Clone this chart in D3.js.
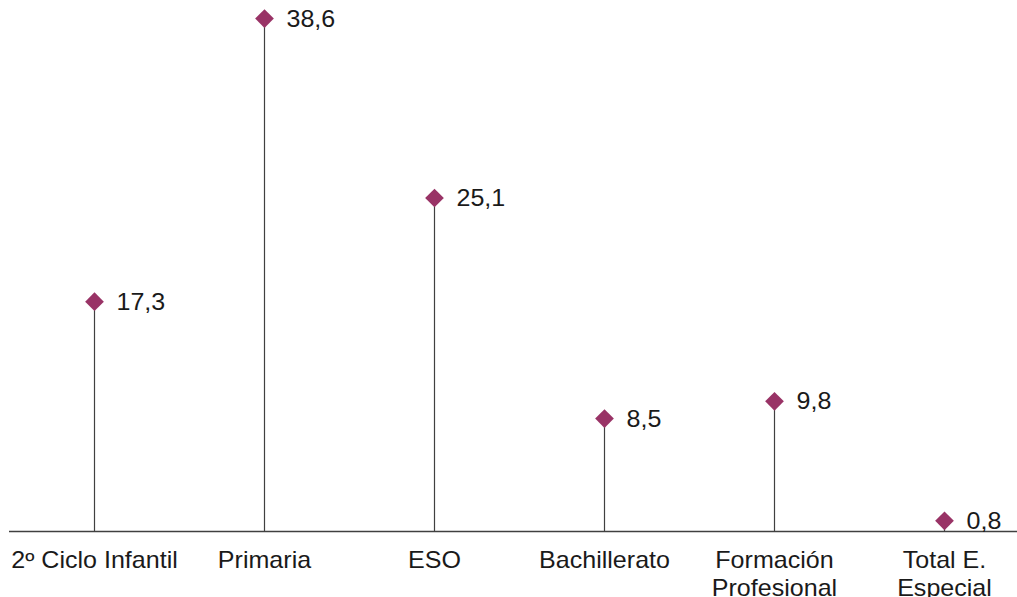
<!DOCTYPE html>
<html><head><meta charset="utf-8">
<script src="https://cdn.jsdelivr.net/npm/d3@7"></script>
<style>html,body{margin:0;padding:0;background:#fff;overflow:hidden}</style>
</head><body>
<svg id="c" width="1017" height="597"></svg>
<script>
const categories = [["2º Ciclo Infantil"], ["Primaria"], ["ESO"], ["Bachillerato"], ["Formación", "Profesional"], ["Total E.", "Especial"]];
const values = [17.3, 38.6, 25.1, 8.5, 9.8, 0.8];
const valueLabels = ["17,3", "38,6", "25,1", "8,5", "9,8", "0,8"];

const svg = d3.select("#c");
const font = "'Liberation Sans', Arial, sans-serif";
const fs = 23, sx = 1.09;
const x = d3.scaleBand().domain(d3.range(categories.length)).range([9, 1029]);
const y = d3.scaleLinear().domain([0, 40]).range([531.5, 0]);
const cx = i => Math.round(x(i) + x.bandwidth() / 2) + 0.5;

// stems
svg.selectAll("line.stem").data(values).join("line")
  .attr("x1", (d, i) => cx(i)).attr("x2", (d, i) => cx(i))
  .attr("y1", y(0)).attr("y2", d => y(d))
  .attr("stroke", "#404040").attr("stroke-width", 1.2);

// baseline
svg.append("line").attr("x1", 9).attr("x2", 1029).attr("y1", y(0)).attr("y2", y(0))
  .attr("stroke", "#404040").attr("stroke-width", 1.5);

// markers
const sym = d3.symbol().type(d3.symbolSquare).size(175);
svg.selectAll("path.m").data(values).join("path")
  .attr("d", sym)
  .attr("transform", (d, i) => `translate(${cx(i)},${y(d)}) rotate(45)`)
  .attr("fill", "#993366");

// value labels
svg.selectAll("text.v").data(values).join("text")
  .attr("transform", (d, i) => `translate(${cx(i) + 22},${y(d) + 8}) scale(${sx},1)`)
  .attr("font-family", font).attr("font-size", fs).attr("fill", "#1a1a1a")
  .text((d, i) => valueLabels[i]);

// category labels
const cat = svg.selectAll("text.c").data(categories).join("text")
  .attr("transform", (d, i) => `translate(${cx(i)},0) scale(${sx},1)`)
  .attr("text-anchor", "middle").attr("font-family", font).attr("font-size", fs).attr("fill", "#1a1a1a");
cat.each(function(lines, i) {
  d3.select(this).selectAll("tspan").data(lines).join("tspan")
    .attr("x", 0).attr("y", (l, j) => 568 + j * 28).text(l => l);
});
</script>
</body></html>
